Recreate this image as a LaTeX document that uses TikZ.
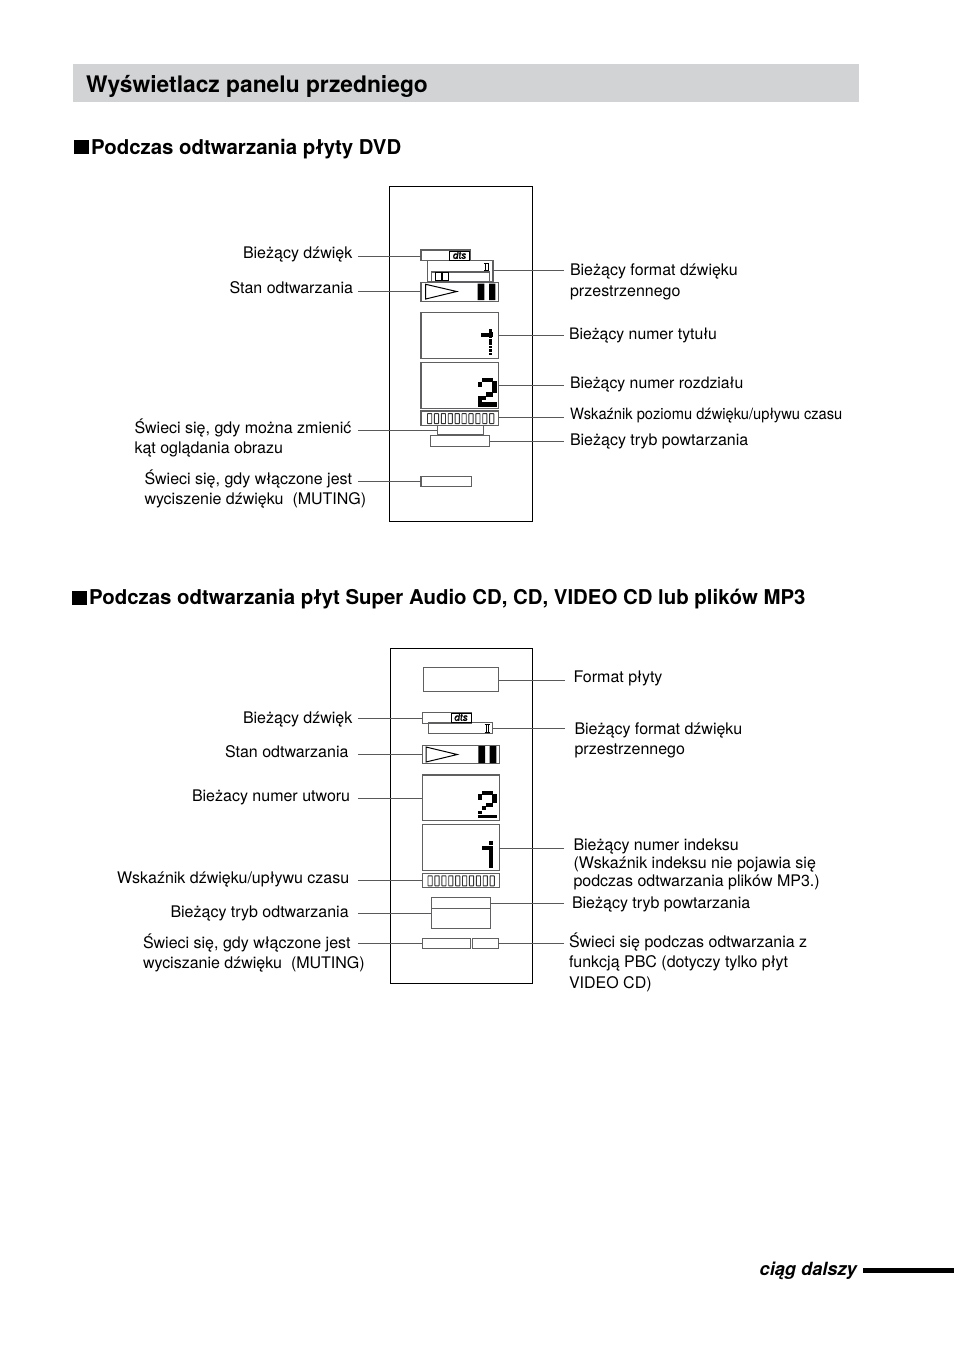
\documentclass[tikz,border=0pt]{standalone}
\usepackage{fontspec}
\setmainfont{TeX Gyre Heros}
\newfontfamily\dtsfont[FakeBold=2,FakeSlant=0.12]{TeX Gyre Heros}
\definecolor{boxgray}{HTML}{606062}
\definecolor{leadgray}{HTML}{58595B}
\definecolor{headgray}{HTML}{D1D3D4}
\tikzset{
 x=1pt,y=-1pt,
 frame/.style={draw=black,line width=1pt,fill=none,inner sep=0,outer sep=0},
 dispbox/.style={draw=boxgray,line width=1.1pt,inner sep=0,outer sep=0},
 lead/.style={draw=leadgray,line width=1pt},
 lab/.style={anchor=base west,inner sep=0,outer sep=0,font=\fontsize{16}{20.2}\selectfont,align=left},
 labr/.style={anchor=north west,inner sep=0,outer sep=0,font=\fontsize{16}{20.2}\selectfont,align=left},
 head/.style={anchor=base west,inner sep=0,outer sep=0,font=\fontsize{22.8}{26}\selectfont\bfseries},
 sect/.style={anchor=base west,inner sep=0,outer sep=0,font=\fontsize{20.4}{24}\selectfont\bfseries},
}
% name, x1, y1, x2, y2
\newcommand\bx[6][dispbox]{%
 \pgfmathsetmacro\bxw{#5-#3}\pgfmathsetmacro\bxh{#6-#4}%
 \pgfmathsetmacro\bxx{(#3+#5)/2}\pgfmathsetmacro\bxy{(#4+#6)/2}%
 \node[#1,minimum width=\bxw pt,minimum height=\bxh pt] (#2) at (\bxx,\bxy) {};}
% filled pixel block in zoom coordinates: origin x,y then x1,y1,x2,y2 in 3x pixels
\newcommand\px[6]{\filldraw[black,line width=.25pt] ({#1+#3/3},{#2+#4/3}) rectangle ({#1+#5/3},{#2+#6/3});}
\newcommand\cells[3]{%
 \foreach \i in {0,...,9}{\draw[draw=black!80,line width=.9pt,rounded corners=.4pt] ({#1+\i*6.9},#2) rectangle ({#1+\i*6.9+4.2},#3);}}
\newcommand\dtslogo[2]{%
 \draw[black,line width=1pt] (#1,#2) rectangle ({#1+20},{#2+9});
 \node[inner sep=0,font=\fontsize{10}{10}\selectfont\dtsfont] at ({#1+9.8},{#2+4}) {dts};}
\newcommand\twobars[3]{%
 \draw[black,line width=.8pt] ({#1+.8},#2) -- ({#1+.8},#3) ({#1+3.6},#2) -- ({#1+3.6},#3);
 \draw[black,line width=.7pt] ({#1-.5},#2) -- ({#1+4.9},#2) ({#1-.5},#3) -- ({#1+4.9},#3);}
\begin{document}
\begin{tikzpicture}
\useasboundingbox (0,0) rectangle (954,1352);
\fill[white] (0,0) rectangle (954,1352);
\fill[headgray] (73,64) rectangle (859,102);
\node[head] (title) at (86,92) {Wyświetlacz panelu przedniego};
\fill[black] (74,140) rectangle (89,154);
\node[sect] (s1) at (91,154) {Podczas odtwarzania płyty DVD};
\fill[black] (72,591) rectangle (87,605);
\node[sect] (s2) at (89,604) {Podczas odtwarzania płyt Super Audio CD, CD, VIDEO CD lub plików MP3};
\node[anchor=base east,inner sep=0,font=\fontsize{18.2}{20}\selectfont\bfseries\itshape] (cont) at (857,1275) {ciąg dalszy};
\fill[black] (863,1268) rectangle (954,1273);

% ---------- panel 1
\bx[frame]{fa}{389.5}{186.5}{532.5}{521.5}
\bx{adts}{421}{250}{470.5}{260.5}
\bx{asur}{427.5}{260.5}{493}{282}
\bx{asuri}{431.7}{272}{489.7}{282}
\bx{aplay}{421}{282.3}{498.5}{301.3}
\bx{atitle}{421}{312.3}{498.5}{358.3}
\bx{achap}{421}{362.3}{498.5}{408.3}
\bx{abar}{421}{411}{498.5}{425.3}
\bx{aang}{437.3}{425.3}{483.3}{435}
\bx{arep}{430.3}{435.3}{489.7}{446.3}
\bx{amut}{421}{476.3}{471.7}{486.7}
\dtslogo{449.5}{251.2}
\twobars{484.3}{263}{270.5}
\draw[black,line width=.9pt] (435,272.8) rectangle (441,280) (442,272.8) rectangle (448,280);
\draw[black,line width=1pt] (425.7,284.3) -- (456.7,291.5) -- (425.7,299) -- cycle;
\fill[black] (477.7,283.5) rectangle (484.3,300) (489,283.5) rectangle (495.3,300);
\px{380}{230}{303}{310}{325}{318}
\foreach \k in {0,...,7}{\fill[black] ({380+327/3},{230+(297+\k*10.1)/3}) rectangle ({380+336/3},{230+(304.5+\k*10.1)/3});}
\px{380}{230}{327}{306}{336}{319}
\px{380}{355}{305}{68}{337}{78}
\px{380}{355}{294}{82}{303}{92}
\px{380}{355}{337}{78}{348}{112}
\px{380}{355}{317}{112}{337}{122}
\px{380}{355}{304}{122}{316}{132}
\px{380}{355}{294}{122}{303}{152}
\px{380}{355}{303}{142}{348}{152}
\cells{427.5}{413.6}{423.6}

\coordinate (la1) at (358,256);
\coordinate (la2) at (358,291);
\coordinate (la3) at (358,430.7);
\coordinate (la4) at (358,481.3);
\coordinate (ra1) at (563.5,270.7);
\coordinate (ra2) at (563.5,335.7);
\coordinate (ra3) at (563.5,385.7);
\coordinate (ra4) at (563.5,417);
\coordinate (ra5) at (563.5,441);
\draw[lead] (la1) -- (la1 -| adts.west);
\draw[lead] (la2) -- (la2 -| aplay.west);
\draw[lead] (la3) -- (la3 -| aang.west);
\draw[lead] (la4) -- (la4 -| amut.west);
\draw[lead] (ra1) -- (ra1 -| asur.east);
\draw[lead] (ra2) -- (ra2 -| atitle.east);
\draw[lead] (ra3) -- (ra3 -| achap.east);
\draw[lead] (ra4) -- (ra4 -| abar.east);
\draw[lead] (ra5) -- (ra5 -| arep.east);

\node[lab] (ta1) at (243,258) {Bieżący dźwięk};
\node[lab] (ta2) at (229.5,293) {Stan odtwarzania};
\node[labr] (ta3) at (134.5,419) {Świeci się, gdy można zmienić\\kąt oglądania obrazu};
\node[labr] (ta4) at (144.5,470) {Świeci się, gdy włączone jest\\wyciszenie dźwięku\ \ (MUTING)};
\node[labr,font=\fontsize{16}{21}\selectfont] (tb1) at (570,264) {Bieżący format dźwięku\\przestrzennego};
\node[lab,font=\fontsize{15.8}{20}\selectfont] (tb2) at (569,339) {Bieżący numer tytułu};
\node[lab,font=\fontsize{15.8}{20}\selectfont] (tb3) at (570,388) {Bieżący numer rozdziału};
\node[lab,font=\fontsize{15.6}{20}\selectfont] (tb4) at (570,419) {\scalebox{.94}[1]{Wskaźnik poziomu dźwięku/upływu czasu}};
\node[lab] (tb5) at (570,445) {Bieżący tryb powtarzania};

% ---------- panel 2
\bx[frame]{fb}{390.5}{648}{532.5}{983}
\bx{bfmt}{423.3}{667.3}{498.7}{691.7}
\bx{bdts}{422.3}{712.3}{471.7}{723.3}
\bx[dispbox,line width=1.5pt]{bsur}{428.7}{722.3}{492.7}{733.3}
\bx{bplay}{422.3}{745.3}{499.3}{763.3}
\bx{btrack}{422.3}{775}{499.3}{820.3}
\bx{bidx}{422.3}{824.3}{499.3}{870.3}
\bx{bbar}{422.3}{873.7}{499.3}{887.3}
\bx{brep}{431.3}{897.3}{490.3}{928.3}
\coordinate (bdiv) at (431.3,908.3);
\draw[draw=boxgray,line width=1.1pt] (bdiv) -- (bdiv -| brep.east);
\bx{bmut}{422.3}{938.3}{470.7}{948.3}
\bx{bpbc}{472.3}{938.3}{498.3}{948.3}
\dtslogo{451}{713.2}
\twobars{485.2}{724}{732}
\draw[black,line width=1pt] (426,747) -- (457.3,754.5) -- (426,762) -- cycle;
\fill[black] (478.3,746) rectangle (485,763) (489.7,746) rectangle (496.3,763);
\px{380}{790}{305}{3}{335}{13}
\px{380}{790}{294}{13}{303}{28}
\px{380}{790}{337}{13}{348}{35}
\px{380}{790}{318}{38}{335}{48}
\px{380}{790}{305}{48}{316}{58}
\px{380}{790}{294}{62}{303}{70}
\px{380}{790}{294}{74}{303}{82}
\px{380}{790}{305}{74}{335}{82}
\px{380}{790}{337}{74}{348}{82}
\px{380}{790}{305}{168}{336}{176}
\px{380}{790}{327}{152}{336}{162}
\px{380}{790}{327}{168}{336}{232}
\cells{428}{875.8}{885.8}

\coordinate (lb1) at (358,718.3);
\coordinate (lb2) at (358,754.3);
\coordinate (lb3) at (358,798.3);
\coordinate (lb4) at (358,880.3);
\coordinate (lb5) at (358,913.3);
\coordinate (lb6) at (358,943.3);
\coordinate (rb1) at (565,680);
\coordinate (rb2) at (565,728.3);
\coordinate (rb3) at (564,848.3);
\coordinate (rb4) at (564,903.3);
\coordinate (rb5) at (564,943.3);
\draw[lead] (lb1) -- (lb1 -| bdts.west);
\draw[lead] (lb2) -- (lb2 -| bplay.west);
\draw[lead] (lb3) -- (lb3 -| btrack.west);
\draw[lead] (lb4) -- (lb4 -| bbar.west);
\draw[lead] (lb5) -- (lb5 -| brep.west);
\draw[lead] (lb6) -- (lb6 -| bmut.west);
\draw[lead] (rb1) -- (rb1 -| bfmt.east);
\draw[lead] (rb2) -- (rb2 -| bsur.east);
\draw[lead] (rb3) -- (rb3 -| bidx.east);
\draw[lead] (rb4) -- (rb4 -| brep.east);
\draw[lead] (rb5) -- (rb5 -| bpbc.east);

\node[lab] (tc1) at (243,723) {Bieżący dźwięk};
\node[lab] (tc2) at (225,757) {Stan odtwarzania};
\node[lab] (tc3) at (192,801) {Bieżacy numer utworu};
\node[lab] (tc4) at (117,883) {Wskaźnik dźwięku/upływu czasu};
\node[lab] (tc5) at (170.5,917) {Bieżący tryb odtwarzania};
\node[labr] (tc6) at (143,934) {Świeci się, gdy włączone jest\\wyciszanie dźwięku\ \ (MUTING)};
\node[lab] (td1) at (573.5,682) {Format płyty};
\node[labr] (td2) at (574.5,723) {Bieżący format dźwięku\\przestrzennego};
\node[labr,font=\fontsize{16}{18}\selectfont] (td3) at (573.5,839) {Bieżący numer indeksu\\(Wskaźnik indeksu nie pojawia się\\podczas odtwarzania plików MP3.)};
\node[lab] (td4) at (572,908) {Bieżący tryb powtarzania};
\node[labr,font=\fontsize{16}{20.5}\selectfont] (td5) at (569,932.8) {Świeci się podczas odtwarzania z\\funkcją PBC (dotyczy tylko płyt\\VIDEO CD)};
\end{tikzpicture}
\end{document}
